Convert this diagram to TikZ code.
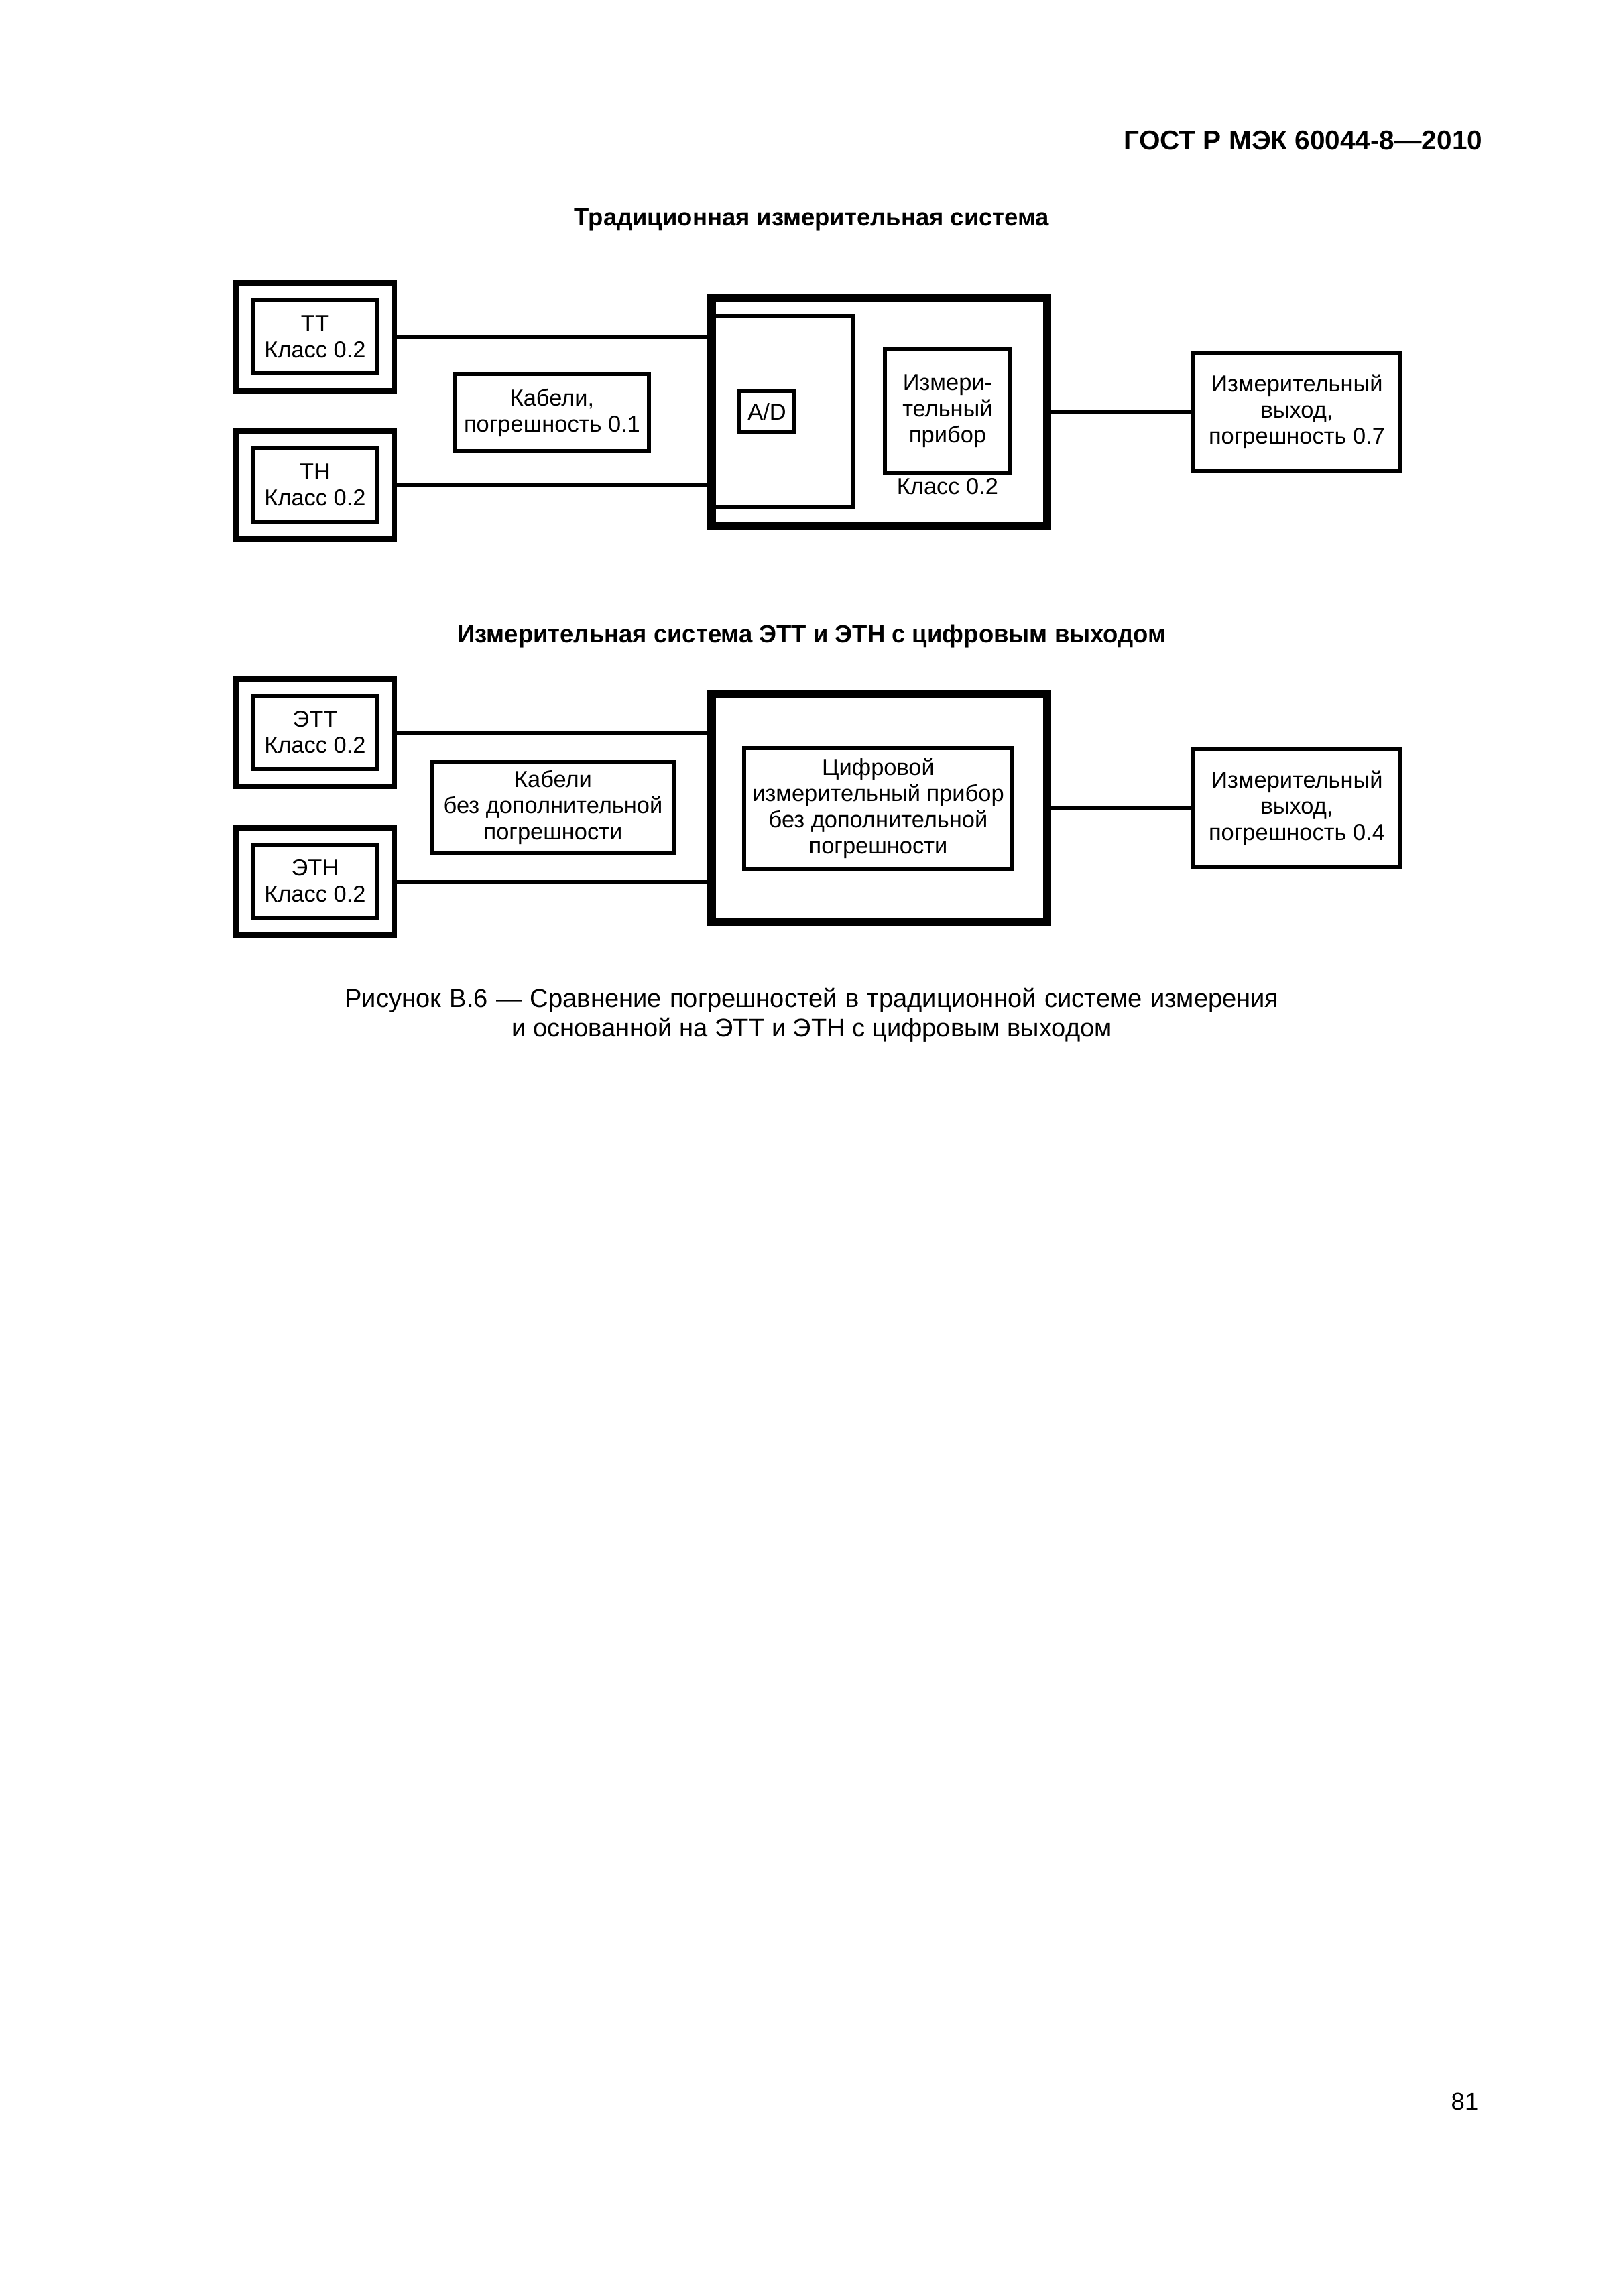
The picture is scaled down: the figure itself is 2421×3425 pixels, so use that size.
\documentclass[tikz,border=0pt]{standalone}
\usepackage{fontspec}
\setmainfont{Liberation Sans}
\usetikzlibrary{positioning}
\newcommand{\pxu}{0.2468pt}
\tikzset{
    boxsize/.style 2 args = {
        minimum width=#1*\pxu,
        minimum height=#2*\pxu
    },
    boxtext/.style = {
        align=center,
        font=\fontsize{8.5}{9.6}\selectfont,
        inner sep=0pt,
        outer sep=0pt
    },
    plainnode/.style = {
        boxtext,
        rectangle,
        draw=black,
        line width=6*\pxu
    },
    sensorframe/.style = {
        plainnode,
        line width=8.5*\pxu
    },
    unitnode/.style = {
        plainnode,
        line width=12.5*\pxu
    },
    wire/.style = {
        draw=black,
        line width=6*\pxu
    },
    titlenode/.style = {
        font=\fontsize{9}{11}\selectfont\bfseries,
        inner sep=0pt
    }
}
\begin{document}
\begin{tikzpicture}[x=\pxu, y=-\pxu]
            \path [fill=white, use as bounding box] (0,0) rectangle (2421,3425);
            \node [titlenode, font=\fontsize{10}{12}\selectfont\bfseries, anchor=east] (gost) at (2212,210) {ГОСТ Р МЭК 60044-8—2010};
            \node [titlenode] (title1) at (1211,328) {Традиционная измерительная система};
            \node [sensorframe, boxsize={235.5}{160.5}] (ttframe) at (470,502.5) {};
            \node [plainnode, boxsize={184}{109}] (tt) at (ttframe) {ТТ\\Класс 0.2};
            \node [sensorframe, boxsize={235.5}{160.5}] (tnframe) at (470,723.5) {};
            \node [plainnode, boxsize={184}{109}] (tn) at (tnframe) {ТН\\Класс 0.2};
            \node [plainnode, boxsize={289}{115}] (cable1) at (823.5,615.5) {Кабели,\\погрешность 0.1};
            \node [unitnode, boxsize={500.5}{339.5}] (meas1) at (1311.5,614) {};
            \node [plainnode, boxsize={215}{284}] (adframe) at (1165.5,614) {};
            \node [plainnode, boxsize={82}{62}] (adc) at (1144,614) {A/D};
            \node [plainnode, boxsize={187}{185}] (meter) at (1413.5,613.5) {Измери-\\тельный\\прибор};
            \node [boxtext, below=7*\pxu of meter] (meterclass) {Класс 0.2};
            \node [plainnode, boxsize={309}{175}] (out1) at (1934.5,614.5) {Измерительный\\выход,\\погрешность 0.7};
            \draw [wire] (ttframe.east) -- (ttframe.east -| meas1.west);
            \draw [wire] (tnframe.east) -- (tnframe.east -| meas1.west);
            \draw [wire] (meas1.east) -- (out1.west);
            \node [titlenode] (title2) at (1211,949) {Измерительная система ЭТТ и ЭТН с цифровым выходом};
            \node [sensorframe, boxsize={235.5}{160.5}] (ettframe) at (470,1092.5) {};
            \node [plainnode, boxsize={184}{109}] (ett) at (ettframe) {ЭТТ\\Класс 0.2};
            \node [sensorframe, boxsize={235.5}{160.5}] (etnframe) at (470,1314.5) {};
            \node [plainnode, boxsize={184}{109}] (etn) at (etnframe) {ЭТН\\Класс 0.2};
            \node [plainnode, boxsize={360}{137}] (cable2) at (825,1204.5) {Кабели\\без дополнительной\\погрешности};
            \node [unitnode, boxsize={500.5}{340}] (meas2) at (1311.5,1205) {};
            \node [plainnode, boxsize={400}{180}] (digital) at (1310,1206) {Цифровой\\измерительный прибор\\без дополнительной\\погрешности};
            \node [plainnode, boxsize={309}{175}] (out2) at (1934.5,1205.5) {Измерительный\\выход,\\погрешность 0.4};
            \draw [wire] (ettframe.east) -- (ettframe.east -| meas2.west);
            \draw [wire] (etnframe.east) -- (etnframe.east -| meas2.west);
            \draw [wire] (meas2.east) -- (out2.west);
            \node [align=center, font=\fontsize{9.4}{10.8}\selectfont, inner sep=0pt] (caption) at (1211,1514) {\makebox[343.8pt][s]{Рисунок В.6 — Сравнение погрешностей в традиционной системе измерения}\\и основанной на ЭТТ и ЭТН с цифровым выходом};
            \node [font=\fontsize{9}{11}\selectfont, inner sep=0pt] (pagenum) at (2185,3135) {81};
        \end{tikzpicture}
\end{document}
